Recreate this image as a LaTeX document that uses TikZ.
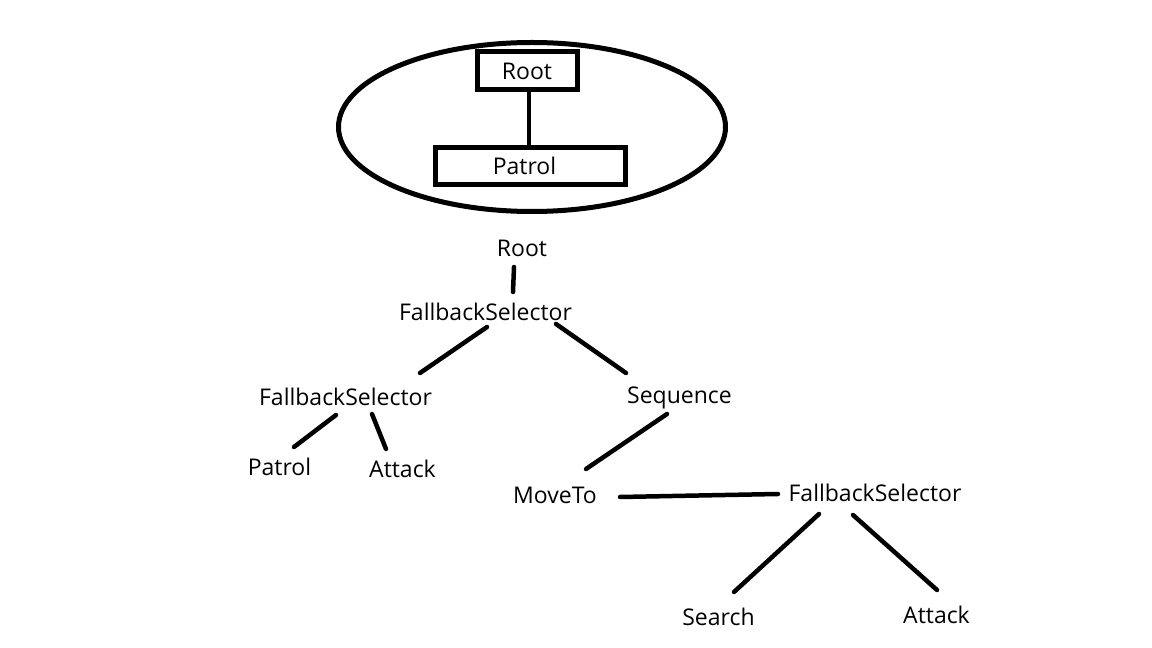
\documentclass[tikz,border=0pt]{standalone}
\usepackage{fontspec}
\setmainfont{Open Sans}
\begin{document}
\begin{tikzpicture}[x=1pt,y=1pt,cap=round,
	every node/.style={font=\fontsize{23}{28}\selectfont,inner sep=0pt,text height=16.4pt,text depth=0pt},
	box/.style={draw,line width=5pt},
	edge/.style={line width=4.5pt}]
			\useasboundingbox (0,0) rectangle (1152,648);
			% legend: the tree before
			\draw[line width=5pt] (532,521) ellipse [x radius=193.5, y radius=84.5];
			\node[box,minimum width=100,minimum height=38] (rootbox) at (527,577) {Root};
			\node[box,minimum width=190,minimum height=37] (patrolbox) at (530.5,482) {Patrol\kern12pt};
			\draw[edge,cap=butt] ([xshift=2pt]rootbox.south) -- ([xshift=2pt]rootbox.south |- patrolbox.north);
			% the tree
			\node (root) at (522,400) {Root};
			\node (fbA) at (485.5,336) {FallbackSelector};
			\node (fbB) at (345.5,251) {FallbackSelector};
			\node (seq) at (679.5,253) {Sequence};
			\node (patrol) at (279.5,181) {Patrol};
			\node (attackA) at (402.5,179) {Attack};
			\node (moveto) at (555,153) {MoveTo};
			\node (fbC) at (875,155) {FallbackSelector};
			\node (search) at (718.5,31) {Search};
			\node (attackB) at (936.5,33) {Attack};
			\foreach \a/\da/\b/\db in {root/{(-8,-19)}/fbA/{(27.5,20)},
				fbA/{(1.5,-15)}/fbB/{(74.5,24)},
				fbA/{(70.5,-12)}/seq/{(-53.5,22)},
				fbB/{(-9.5,-18)}/patrol/{(14.5,20)},
				fbB/{(26.5,-17)}/attackA/{(-16.5,20)},
				seq/{(-12.5,-19)}/moveto/{(31,26)},
				moveto/{(65,-2)}/fbC/{(-97,-1)},
				fbC/{(-56,-21)}/search/{(15.5,25)},
				fbC/{(-22,-22)}/attackB/{(0.5,25)}}
			\draw[edge] ([shift={\da}]\a.center) -- ([shift={\db}]\b.center);
		\end{tikzpicture}
\end{document}
